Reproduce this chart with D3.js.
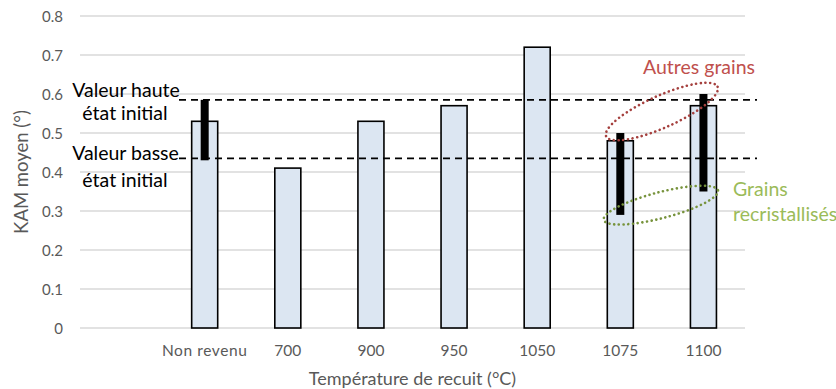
<!DOCTYPE html>
<html><head><meta charset="utf-8">
<script src="https://cdn.jsdelivr.net/npm/d3@7"></script>
<style>
html,body{margin:0;padding:0;background:#fff;}
svg{display:block;font-family:Lato,"Open Sans",sans-serif;}
</style></head>
<body>
<svg id="c" width="836" height="389"></svg>
<script>
const categories = ["", "Non revenu", "700", "900", "950", "1050", "1075", "1100"];
const kamMean = [null, 0.53, 0.41, 0.53, 0.57, 0.72, 0.48, 0.57];
const rangeLow = [null, 0.43, null, null, null, null, 0.29, 0.35];
const rangeHigh = [null, 0.585, null, null, null, null, 0.50, 0.60];
const refHigh = 0.585;
const refLow = 0.435;
const yTicks = [0, 0.1, 0.2, 0.3, 0.4, 0.5, 0.6, 0.7, 0.8];

const svg = d3.select("#c");
const L = 80, R = 745, T = 16, B = 328;
const x = d3.scaleBand().domain(categories).range([L, R]).paddingInner(0.687).paddingOuter(0.3435);
const y = d3.scaleLinear().domain([0, 0.8]).range([B, T]);
const xc = c => x(c) + x.bandwidth() / 2;

// gridlines
svg.append("g").selectAll("line").data(yTicks).join("line")
  .attr("x1", L).attr("x2", R)
  .attr("y1", d => y(d)).attr("y2", d => y(d))
  .attr("stroke", "#d9d9d9").attr("stroke-width", 1.3);

// y axis labels
const yAxis = d3.axisLeft(y).tickValues(yTicks).tickSize(0).tickPadding(0)
  .tickFormat(d => d === 0 ? "0" : d3.format(".1f")(d));
const ga = svg.append("g").attr("transform", `translate(${63},0)`).call(yAxis);
ga.select(".domain").remove();
ga.selectAll("text").attr("fill", "#595959").attr("dy", "0.36em")
  .style("font-size", "15px").style("font-family", "Lato");

// x axis labels
const xAxis = d3.axisBottom(x).tickSize(0).tickPadding(0);
const gx = svg.append("g").attr("transform", `translate(0,${355.5})`).call(xAxis);
gx.select(".domain").remove();
gx.selectAll("text").attr("fill", "#595959").attr("dy", 0)
  .style("font-size", "15.5px").style("font-family", "Lato")
  .style("letter-spacing", d => d === "Non revenu" ? "0.6px" : null);

// bars
const data = categories.map((c, i) => ({c, v: kamMean[i], lo: rangeLow[i], hi: rangeHigh[i]}));
svg.append("g").selectAll("rect").data(data.filter(d => d.v != null)).join("rect")
  .attr("x", d => x(d.c)).attr("width", x.bandwidth())
  .attr("y", d => y(d.v)).attr("height", d => y(0) - y(d.v))
  .attr("fill", "#dce6f2").attr("stroke", "#000").attr("stroke-width", 1.6);

// reference dashed lines
[refHigh, refLow].forEach(v => {
  svg.append("line").attr("x1", 179).attr("x2", 757)
    .attr("y1", y(v)).attr("y2", y(v))
    .attr("stroke", "#000").attr("stroke-width", 1.6).attr("stroke-dasharray", "7,5");
});

// range bars
svg.append("g").selectAll("rect").data(data.filter(d => d.lo != null)).join("rect")
  .attr("x", d => xc(d.c) - 4).attr("width", 8)
  .attr("y", d => y(d.hi)).attr("height", d => y(d.lo) - y(d.hi))
  .attr("fill", "#000");

// ellipses
const ecx = (xc("1075") + xc("1100")) / 2;
svg.append("ellipse").attr("cx", 0).attr("cy", 0).attr("rx", 61).attr("ry", 16)
  .attr("transform", `translate(${ecx},${y(0.555)}) rotate(-24)`)
  .attr("fill", "none").attr("stroke", "#a5403e").attr("stroke-width", 2.6)
  .attr("stroke-dasharray", "0.1,4.6").attr("stroke-linecap", "round");
svg.append("ellipse").attr("cx", 0).attr("cy", 0).attr("rx", 59).attr("ry", 13)
  .attr("transform", `translate(${ecx - 1},${y(0.315)}) rotate(-14.5)`)
  .attr("fill", "none").attr("stroke", "#77933c").attr("stroke-width", 2.6)
  .attr("stroke-dasharray", "0.1,4.6").attr("stroke-linecap", "round");

// annotation texts
const tx = (t, xx, yy, col, anchor, fs) => svg.append("text").attr("x", xx).attr("y", yy)
  .attr("fill", col).attr("text-anchor", anchor || "start")
  .style("font-size", (fs || 19.5) + "px").text(t);
tx("Valeur haute", 126, 96.5, "#000", "middle", 19.5);
tx("état initial", 125, 120, "#000", "middle", 19.5);
tx("Valeur basse", 125.5, 160, "#000", "middle", 19.5);
tx("état initial", 125, 186.5, "#000", "middle", 19.5);
tx("Autres grains", 643, 74, "#c0504d");
tx("Grains", 733, 195.5, "#9bbb59");
tx("recristallisés", 733, 220.5, "#9bbb59");

// axis titles
svg.append("text").attr("x", (L + R) / 2).attr("y", 385).attr("text-anchor", "middle")
  .attr("fill", "#595959").style("font-size", "18px")
  .text("Température de recuit (°C)");
svg.append("text").attr("transform", `translate(28,${(T + B) / 2}) rotate(-90)`)
  .attr("text-anchor", "middle")
  .attr("fill", "#595959").style("font-size", "18.5px").text("KAM moyen (°)");
</script>
</body></html>
